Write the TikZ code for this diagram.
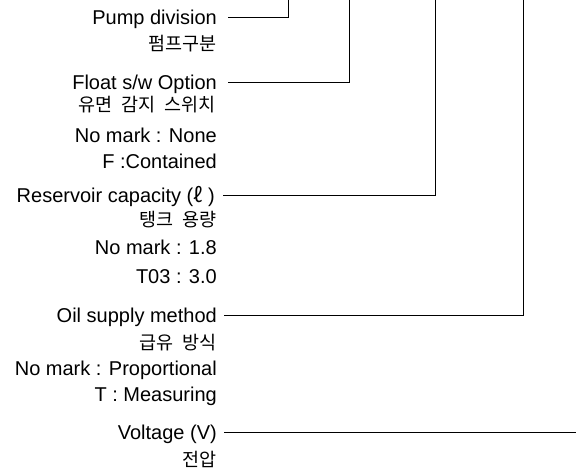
\documentclass[tikz,border=0pt]{standalone}
\usepackage{fontspec}
\setmainfont{Liberation Sans}
\newfontfamily\kfont[WordSpace=2.2]{Noto Sans CJK KR}
\begin{document}
\begin{tikzpicture}[x=1pt,y=-1pt,
  lat/.style={anchor=east,inner sep=0pt,text height=14.3pt,text depth=0pt,font=\fontsize{20}{24}\selectfont},
  kor/.style={anchor=east,inner sep=0pt,text height=14pt,text depth=0pt,font=\kfont\fontsize{18.5}{22}\selectfont},
  conn/.style={draw=black,line width=0.9pt}]
\useasboundingbox (0,0) rectangle (576,473);
% Pump division
\node[lat] (pump) at (217,17.5) {Pump division};
\node[kor] (pumpk) at (217,43.5) {펌프구분};
% Float switch
\node[lat] (flt) at (217,82.7) {Float s/w Option};
\node[kor] (fltk) at (216,105) {유면 감지 스위치};
\node[lat] (flta) at (217,135) {No mark : None};
\node[lat] (fltb) at (217,161.5) {F :Contained};
% Reservoir
\node[lat] (res) at (215,195.3) {Reservoir capacity ({\kfont ℓ} )};
\node[kor] (resk) at (217,220) {탱크 용량};
\node[lat] (resa) at (217,247.5) {No mark : 1.8};
\node[lat] (resb) at (217,276) {T03 : 3.0};
% Oil supply
\node[lat] (oil) at (217,315.3) {Oil supply method};
\node[kor] (oilk) at (217,342.5) {급유 방식};
\node[lat] (oila) at (217,368) {No mark : Proportional};
\node[lat] (oilb) at (217,394) {T : Measuring};
% Voltage
\node[lat] (volt) at (217,432) {Voltage (V)};
\node[kor] (voltk) at (217,459) {전압};
% connector ends
\coordinate (t1) at (288,0);
\coordinate (t2) at (349,0);
\coordinate (t3) at (435,0);
\coordinate (t4) at (523,0);
\coordinate (t5) at (576,0);
\draw[conn] ([xshift=11pt]pump.east) -| (t1);
\draw[conn] ([xshift=11pt]flt.east) -| (t2);
\draw[conn] ([xshift=8pt]res.east) -| (t3);
\draw[conn] ([xshift=7pt]oil.east) -| (t4);
\draw[conn] ([xshift=7pt]volt.east) -- (volt.east -| t5);
\end{tikzpicture}
\end{document}
